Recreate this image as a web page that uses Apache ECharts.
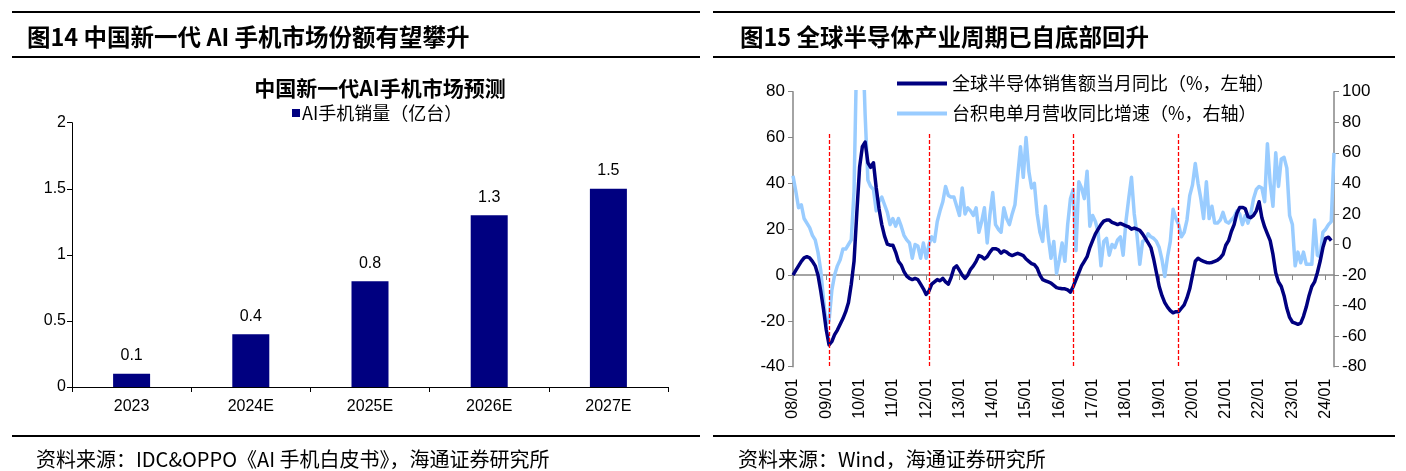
<!DOCTYPE html>
<html>
<head>
<meta charset="utf-8">
<script src="https://cdn.jsdelivr.net/npm/echarts@6/dist/echarts.min.js"></script>
<style>
html, body { margin: 0; padding: 0; background: #fff; }
#chart { width: 1406px; height: 471px; }
</style>
</head>
<body>
<div id="chart"></div>
<script>
// 图14 数据
var years = ['2023', '2024E', '2025E', '2026E', '2027E'];
var aiPhoneSales = [0.1, 0.4, 0.8, 1.3, 1.5];

// 图15 数据：2008/01 - 2024/04 月度
var months = [];
for (var y = 8; y <= 24; y++) {
  for (var mo = 1; mo <= 12; mo++) {
    if (months.length < 196) {
      months.push((y < 10 ? '0' : '') + y + '/' + (mo < 10 ? '0' : '') + mo);
    }
  }
}

// 全球半导体销售额当月同比（%，左轴）
var semiYoY = [
  0, 2, 4, 6, 7.5, 8, 7.5, 6, 4, 0, -7, -15,
  -24, -30.5, -29, -26, -24, -21.5, -19, -16, -12, -4, 6, 27,
  47, 56, 58, 49, 47, 49, 38, 29, 22, 17, 13.5, 13,
  13, 10, 6, 4.4, 1.5, -0.5, -1.5, -2, -1.5, -2, -4, -6,
  -8.5, -7, -4, -3, -2, -2.5, -1.5, -3, -4, -1, 3, 4,
  2, 0, -1.5, 0, 2.5, 4, 6, 8.5, 8, 7, 8, 10,
  11.5, 11.5, 11, 9.5, 10.5, 10, 9, 8.5, 9, 9.5, 9, 8.5,
  7, 6, 5, 4.5, 3, 0, -2, -2.5, -3, -3.5, -4.5, -5.5,
  -5.8, -6, -6, -6.5, -7.5, -5, -2, 1, 4, 6, 8, 12,
  15, 18, 20, 22, 23.5, 24, 24, 23, 22.5, 22, 22.5, 22,
  21.5, 21, 20, 20.5, 20, 19.5, 18, 16, 14, 12, 7, 1,
  -5, -9, -12, -14, -15.5, -16.5, -16, -16, -14.5, -13, -10, -6,
  0, 6, 7.3, 6.5, 6, 5.5, 5.3, 5.5, 6, 6.5, 7.5, 9,
  13, 15, 19, 22, 27, 29.5, 29.5, 29, 25.5, 25, 26, 28,
  32, 25, 21, 18, 15, 9, 1, -3, -5, -9, -14.5, -18.5,
  -20.5, -21, -21.5, -21, -18, -14, -9, -5, -3, 1, 6, 12,
  16, 16.5, 15, null
];

// 台积电单月营收同比增速（%，右轴）
var tsmcYoY = [
  45, 35, 24, 26, 17, 14, 11, 6, 3, -5, -17, -36,
  -52, -50, -30, -20, -14, -10, -3, -3, 0, 3, 35, 130,
  150, 140, 85, 42, 38, 36, 22, 28, 31, 26, 21, 13,
  17, 12, 17, 12, 6, 3, 1, -9, 0, -1, -9, 1,
  -9, 0, 5, 2, 15, 22, 28, 38, 32, 31, 31, 25,
  19, 37, 20, 24, 22, 19, 24, 8, 15, 24, 1, 20,
  34, 13, 10, 8, 24, 17, 13, 20, 26, 45, 64, 44,
  70, 48, 37, 40, 20, 8, 2, 25, 5, -9, 2, -19,
  -10, 1, -11, 13, 30, 36, -4, 41, 37, 30, 48, 12,
  19, 15, 8, -14, 2, 4, -7, 0, -2, 3, 5, -7,
  15, 30, 44, 20, 6, -13, 2, 3, 7, 5, 4, 2,
  -2, -10, -21, -8, 2, 23, 17, 13, 5, 8, 16, 32,
  39, 53, 40, 30, 17, 41, 17, 25, 14, 14, 16, 21,
  15, 14, 16, 18, 22, 20, 13, 19, 14, 20, 30, 36,
  38, 37, 28, 66, 40, 25, 60, 38, 56, 57, 50, 19,
  13, -14, -5, -12, -5, -13, -13, -13, 16, -7, -8, 8,
  10, 13, 15, 60
];

// 周期底部（红色虚线）所在月份序号
var cycleBottoms = [13, 49, 101, 139];

var numFont = "'Liberation Sans', 'Noto Sans CJK SC', sans-serif";
var cjkFont = "'Noto Sans CJK SC', 'Liberation Sans', sans-serif";

var chart = echarts.init(document.getElementById('chart'));

function yearTick(i) { return i % 12 === 0; }

var option = {
  animation: false,
  backgroundColor: '#fff',
  textStyle: { fontFamily: numFont, color: '#000' },
  graphic: [
    { type: 'rect', shape: { x: 12, y: 11, width: 688, height: 2 }, style: { fill: '#000' } },
    { type: 'rect', shape: { x: 12, y: 56, width: 688, height: 2 }, style: { fill: '#000' } },
    { type: 'rect', shape: { x: 12, y: 435, width: 688, height: 2 }, style: { fill: '#000' } },
    { type: 'rect', shape: { x: 713, y: 11, width: 682, height: 2 }, style: { fill: '#000' } },
    { type: 'rect', shape: { x: 713, y: 56, width: 682, height: 2 }, style: { fill: '#000' } },
    { type: 'rect', shape: { x: 713, y: 435, width: 682, height: 2 }, style: { fill: '#000' } }
  ],
  title: [
    { text: '图14 中国新一代 AI 手机市场份额有望攀升', left: 22, top: 20,
      textStyle: { fontFamily: cjkFont, fontSize: 23.5, fontWeight: 'bold', color: '#000' } },
    { text: '图15 全球半导体产业周期已自底部回升', left: 735, top: 20,
      textStyle: { fontFamily: cjkFont, fontSize: 23.5, fontWeight: 'bold', color: '#000' } },
    { text: '中国新一代AI手机市场预测', left: 375, top: 73, textAlign: 'center',
      textStyle: { fontFamily: cjkFont, fontSize: 21, fontWeight: 'bold', color: '#000' } },
    { text: '资料来源：IDC&OPPO《AI 手机白皮书》，海通证券研究所', left: 31, top: 444,
      textStyle: { fontFamily: cjkFont, fontSize: 20, fontWeight: 'normal', color: '#000' } },
    { text: '资料来源：Wind，海通证券研究所', left: 733, top: 444,
      textStyle: { fontFamily: cjkFont, fontSize: 20, fontWeight: 'normal', color: '#000' } }
  ],
  legend: [
    {
      data: ['AI手机销量（亿台）'],
      left: 292, top: 104, padding: 0,
      icon: 'rect', itemWidth: 8, itemHeight: 8, itemGap: 10,
      textStyle: { fontFamily: cjkFont, fontSize: 18, color: '#000', padding: [0, 0, 0, -3] },
      selectedMode: false
    },
    {
      data: ['全球半导体销售额当月同比（%，左轴）', '台积电单月营收同比增速（%，右轴）'],
      orient: 'vertical', left: 897, top: 74, padding: 0,
      icon: 'rect', itemWidth: 50, itemHeight: 4, itemGap: 11,
      textStyle: { fontFamily: cjkFont, fontSize: 18, color: '#000', lineHeight: 19 },
      selectedMode: false
    }
  ],
  grid: [
    { left: 72, top: 122.7, width: 596, height: 264.3 },
    { left: 793, top: 91.7, width: 541, height: 275 }
  ],
  xAxis: [
    {
      gridIndex: 0, type: 'category', data: years,
      axisLine: { lineStyle: { color: '#000', width: 1 } },
      axisTick: { show: true, length: 5, lineStyle: { color: '#000' } },
      axisLabel: { fontSize: 16, color: '#000', margin: 12 }
    },
    {
      gridIndex: 1, type: 'category', data: months, boundaryGap: false, position: 'bottom',
      axisLine: { show: false, onZero: false },
      axisTick: { show: false },
      axisLabel: { interval: yearTick, rotate: 90, fontSize: 16, color: '#000', margin: 12 }
    },
    {
      gridIndex: 1, type: 'category', data: months, boundaryGap: false, position: 'bottom',
      axisLine: { show: true, onZero: true, onZeroAxisIndex: 1, lineStyle: { color: '#868686', width: 1.5 } },
      axisTick: { show: true, interval: yearTick, length: 5, lineStyle: { color: '#868686' } },
      axisLabel: { show: false }
    }
  ],
  yAxis: [
    {
      gridIndex: 0, type: 'value', min: 0, max: 2, interval: 0.5,
      axisLine: { show: true, lineStyle: { color: '#000' } },
      axisTick: { show: true, length: 5, lineStyle: { color: '#000' } },
      axisLabel: { fontSize: 16, color: '#000', margin: 6 },
      splitLine: { show: false }
    },
    {
      gridIndex: 1, type: 'value', min: -40, max: 80, interval: 20, position: 'left',
      axisLine: { show: true, lineStyle: { color: '#868686', width: 1.5 } },
      axisTick: { show: true, length: 5, lineStyle: { color: '#868686' } },
      axisLabel: { fontSize: 17, color: '#000', margin: 8 },
      splitLine: { show: false }
    },
    {
      gridIndex: 1, type: 'value', min: -80, max: 100, interval: 20, position: 'right',
      axisLine: { show: true, lineStyle: { color: '#868686', width: 1.5 } },
      axisTick: { show: true, length: 5, lineStyle: { color: '#868686' } },
      axisLabel: { fontSize: 17, color: '#000', margin: 8 },
      splitLine: { show: false }
    }
  ],
  series: [
    {
      name: 'AI手机销量（亿台）', type: 'bar', xAxisIndex: 0, yAxisIndex: 0,
      data: aiPhoneSales, barWidth: 37,
      itemStyle: { color: '#000080' },
      label: { show: true, position: 'top', distance: 10, fontSize: 16, color: '#000' }
    },
    {
      name: '台积电单月营收同比增速（%，右轴）', type: 'line', xAxisIndex: 1, yAxisIndex: 2,
      data: tsmcYoY, showSymbol: false, clip: true,
      lineStyle: { color: '#99ccff', width: 3.5, join: 'round' },
      itemStyle: { color: '#99ccff' }
    },
    {
      name: '全球半导体销售额当月同比（%，左轴）', type: 'line', xAxisIndex: 1, yAxisIndex: 1,
      data: semiYoY, showSymbol: false, clip: true,
      lineStyle: { color: '#000080', width: 3.5, join: 'round' },
      itemStyle: { color: '#000080' },
      markLine: {
        silent: true, symbol: 'none', label: { show: false }, z: 10,
        lineStyle: { color: '#ff0000', type: [4, 2], width: 1.3, opacity: 1 },
        data: cycleBottoms.map(function (m) {
          return [
            { coord: [m, 61.5], lineStyle: { color: '#ff0000' } },
            { coord: [m, -40] }
          ];
        })
      }
    }
  ]
};

chart.setOption(option);
</script>
</body>
</html>
